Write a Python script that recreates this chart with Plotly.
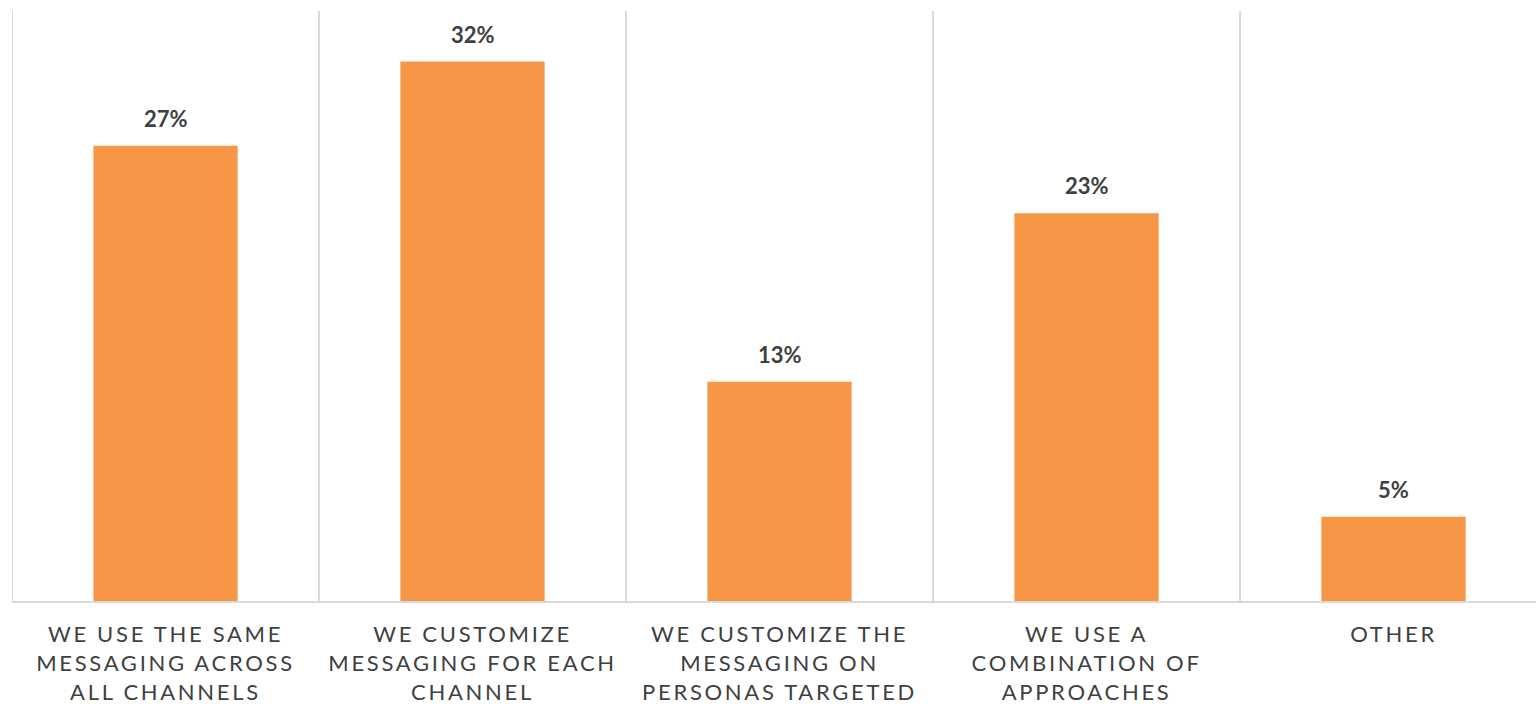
import plotly.graph_objects as go

# Survey responses: how messaging is handled across channels
categories = [
    "WE USE THE SAME<br>MESSAGING ACROSS<br>ALL CHANNELS",
    "WE CUSTOMIZE<br>MESSAGING FOR EACH<br>CHANNEL",
    "WE CUSTOMIZE THE<br>MESSAGING ON<br>PERSONAS TARGETED",
    "WE USE A<br>COMBINATION OF<br>APPROACHES",
    "OTHER",
]
shares = [27, 32, 13, 23, 5]
share_labels = ["27%", "32%", "13%", "23%", "5%"]

BAR = "#F79646"
GRID = "#D9D9D9"
TEXT = "#404040"
FONT = "Lato, 'Source Sans Pro', 'Open Sans', sans-serif"

fig = go.Figure(
    go.Bar(
        x=list(range(len(categories))),
        y=shares,
        width=0.47,
        marker=dict(color=BAR, line=dict(width=0)),
        hoverinfo="skip",
    )
)

for i, (v, lab) in enumerate(zip(shares, share_labels)):
    fig.add_annotation(
        x=i, y=v, text=f"<b>{lab}</b>", showarrow=False,
        yanchor="bottom", yshift=12,
        font=dict(family=FONT, size=22, color=TEXT),
    )

fig.update_layout(
    width=1536,
    height=704,
    margin=dict(l=12, r=0, t=11, b=103),
    paper_bgcolor="white",
    plot_bgcolor="white",
    showlegend=False,
)

fig.update_xaxes(
    type="linear",
    range=[-0.5, 4.464],
    tickmode="array",
    tickvals=list(range(len(categories))),
    ticktext=categories,
    showgrid=False,
    zeroline=False,
    showline=True,
    linecolor=GRID,
    linewidth=2,
    ticks="",
    ticklabelstandoff=13,
    tickfont=dict(family=FONT, size=22, color=TEXT),
)

fig.update_yaxes(
    range=[0, 35],
    showgrid=False,
    zeroline=False,
    showticklabels=False,
    ticks="",
)

# vertical separators between categories
for b in [-0.5, 0.5, 1.5, 2.5, 3.5]:
    fig.add_shape(
        type="line", xref="x", yref="paper",
        x0=b, x1=b, y0=0, y1=1,
        line=dict(color=GRID, width=2),
        layer="below",
    )

spacing_js = (
    "var s=document.createElement('style');"
    "s.textContent='.xtick text{letter-spacing:2.7px;}';"
    "document.head.appendChild(s);"
)

fig.write_html("out.html", post_script=spacing_js)
